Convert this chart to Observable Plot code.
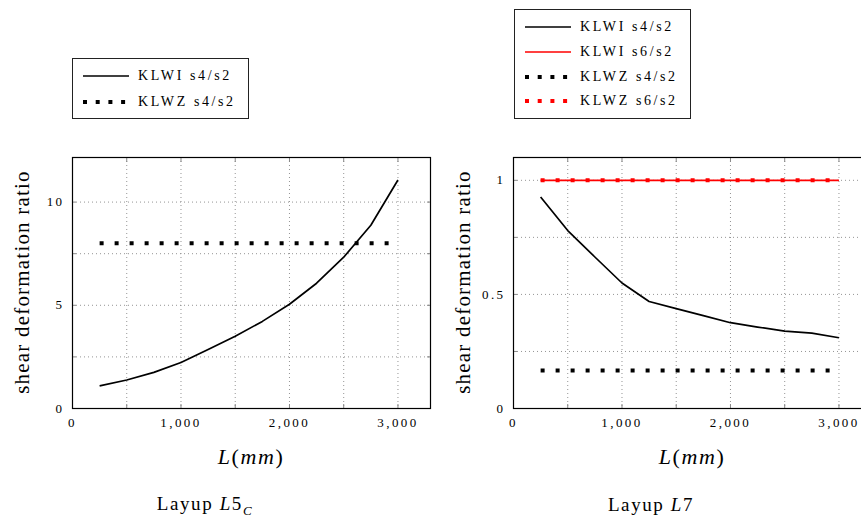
<!DOCTYPE html>
<html>
<head>
<meta charset="utf-8">
<script src="https://cdn.jsdelivr.net/npm/d3@7"></script>
<script src="https://cdn.jsdelivr.net/npm/@observablehq/plot@0.6"></script>
<style>
  html, body { margin: 0; padding: 0; background: #fff; }
  #page { position: relative; width: 861px; height: 520px; overflow: hidden; background: #fff;
          font-family: "Liberation Serif", "DejaVu Serif", serif; color: #000; }
  .panel { position: absolute; top: 0; width: 440px; height: 520px; }
  .panel svg { max-width: none !important; width: 440px; height: 520px; }
  .ylab { position: absolute; font-size: 21px; letter-spacing: 1.2px; white-space: nowrap;
          transform: translate(-50%, -50%) rotate(-90deg); }
  .xlab { position: absolute; font-size: 22px; white-space: nowrap; transform: translate(-50%, -50%); letter-spacing: 1.6px; }
  .title { position: absolute; font-size: 19px; white-space: nowrap; transform: translate(-50%, -50%); letter-spacing: 1.6px; }
  .legend { position: absolute; border: 1px solid #222; background: #fff; box-sizing: border-box; }
  .legend .row { position: absolute; left: 0; height: 20px; display: flex; align-items: center; }
  .legend .row span { font-size: 14px; letter-spacing: 2.6px; margin-left: 9px; }
  i { font-style: italic; }
</style>
</head>
<body>
<div id="page"></div>
<script>
// ---------- data ----------
const lengths = [250, 500, 750, 1000, 1250, 1500, 1750, 2000, 2250, 2500, 2750, 3000];

// Layup L5_C
const l5c_klwi_s4s2 = [1.1, 1.38, 1.75, 2.23, 2.86, 3.5, 4.22, 5.05, 6.07, 7.33, 8.88, 11.07];
const l5c_klwz_s4s2 = [8, 8, 8, 8, 8, 8, 8, 8, 8, 8, 8, 8];

// Layup L7
const l7_klwi_s4s2 = [0.927, 0.78, 0.664, 0.55, 0.469, 0.438, 0.407, 0.376, 0.357, 0.339, 0.33, 0.31];
const l7_klwi_s6s2 = [1, 1, 1, 1, 1, 1, 1, 1, 1, 1, 1, 1];
const l7_klwz_s4s2 = [0.167, 0.167, 0.167, 0.167, 0.167, 0.167, 0.167, 0.167, 0.167, 0.167, 0.167, 0.167];
const l7_klwz_s6s2 = [1, 1, 1, 1, 1, 1, 1, 1, 1, 1, 1, 1];

const xTickLabels = [0, 1000, 2000, 3000];
const xGridTicks = [500, 1000, 1500, 2000, 2500, 3000];
const l5c_yTickLabels = [0, 5, 10];
const l5c_yGridTicks = [2.5, 5, 7.5, 10];
const l7_yTickLabels = [0, 0.5, 1];
const l7_yGridTicks = [0.25, 0.5, 0.75, 1];

const yLabel = "shear deformation ratio";
const legendL5C = ["KLWI s4/s2", "KLWZ s4/s2"];
const legendL7 = ["KLWI s4/s2", "KLWI s6/s2", "KLWZ s4/s2", "KLWZ s6/s2"];

// ---------- helpers ----------
const toRows = (ys) => lengths.map((x, i) => ({x, y: ys[i]}));
const solid = (ys, color) => Plot.line(toRows(ys), {x: "x", y: "y", stroke: color, strokeWidth: 1.7, strokeLinecap: "butt", strokeLinejoin: "round"});
const dotted = (ys, color) => Plot.line(toRows(ys), {x: "x", y: "y", stroke: color, strokeWidth: 4, strokeDasharray: "4,11", strokeLinecap: "butt"});

function panel({left, yMax, yTickLabels, yGridTicks, yFormat, series}) {
  const p = Plot.plot({
    width: 440, height: 520,
    marginLeft: 72, marginRight: 10, marginTop: 157, marginBottom: 112,
    x: {domain: [0, 3300], axis: null},
    y: {domain: [0, yMax], axis: null},
    style: {fontFamily: "'Liberation Serif', 'DejaVu Serif', serif", fontSize: "13px", letterSpacing: "2.4px", background: "transparent", color: "#000", overflow: "visible"},
    marks: [
      Plot.gridX(xGridTicks, {stroke: "#888", strokeOpacity: 1, strokeWidth: 0.9, strokeDasharray: "1,3"}),
      Plot.gridY(yGridTicks, {stroke: "#888", strokeOpacity: 1, strokeWidth: 0.9, strokeDasharray: "1,3"}),
      Plot.axisX(xGridTicks, {anchor: "bottom", tickSize: -4, tickFormat: () => "", stroke: "#888", label: null}),
      Plot.axisX(xGridTicks, {anchor: "top", tickSize: -4, tickFormat: () => "", stroke: "#888", label: null}),
      Plot.axisY(yGridTicks, {anchor: "left", tickSize: -4, tickFormat: () => "", stroke: "#888", label: null}),
      Plot.axisY(yGridTicks, {anchor: "right", tickSize: -4, tickFormat: () => "", stroke: "#888", label: null}),
      Plot.axisX(xTickLabels, {anchor: "bottom", tickSize: 0, tickPadding: 9, tickFormat: d3.format(","), label: null, fill: "#000"}),
      Plot.axisY(yTickLabels, {anchor: "left", tickSize: 0, tickPadding: 8, tickFormat: yFormat, label: null, fill: "#000"}),
      ...series,
      Plot.frame({stroke: "#000", strokeWidth: 1.2})
    ]
  });
  const d = document.createElement("div");
  d.className = "panel";
  d.style.left = left + "px";
  d.appendChild(p);
  return d;
}

function legend(left, top, width, height, entries, rowTops) {
  const box = document.createElement("div");
  box.className = "legend";
  Object.assign(box.style, {left: left + "px", top: top + "px", width: width + "px", height: height + "px"});
  entries.forEach((e, i) => {
    const row = document.createElement("div");
    row.className = "row";
    row.style.top = rowTops[i] + "px";
    row.style.left = "10px";
    const dash = e.dotted ? 'stroke-width="4" stroke-dasharray="4,8.7"' : 'stroke-width="1.7"';
    row.innerHTML = `<svg width="46" height="20"><line x1="0" x2="46" y1="10" y2="10" stroke="${e.color}" ${dash}/></svg><span>${e.label}</span>`;
    box.appendChild(row);
  });
  return box;
}

function addText(cls, html, x, y) {
  const d = document.createElement("div");
  d.className = cls;
  d.style.left = x + "px";
  d.style.top = y + "px";
  d.innerHTML = html;
  page.appendChild(d);
}

const page = document.getElementById("page");

page.appendChild(panel({
  left: 0, yMax: 12.16, yTickLabels: l5c_yTickLabels, yGridTicks: l5c_yGridTicks, yFormat: d3.format("~g"),
  series: [solid(l5c_klwi_s4s2, "#000"), dotted(l5c_klwz_s4s2, "#000")]
}));
page.appendChild(panel({
  left: 441, yMax: 1.1, yTickLabels: l7_yTickLabels, yGridTicks: l7_yGridTicks, yFormat: d3.format("~g"),
  series: [solid(l7_klwi_s4s2, "#000"), solid(l7_klwi_s6s2, "#ff0000"), dotted(l7_klwz_s4s2, "#000"), dotted(l7_klwz_s6s2, "#ff0000")]
}));

page.appendChild(legend(72, 58, 177, 61, [
  {label: legendL5C[0], color: "#000", dotted: false},
  {label: legendL5C[1], color: "#000", dotted: true}
], [7, 33]));
page.appendChild(legend(514, 9, 177, 110, [
  {label: legendL7[0], color: "#000", dotted: false},
  {label: legendL7[1], color: "#ff0000", dotted: false},
  {label: legendL7[2], color: "#000", dotted: true},
  {label: legendL7[3], color: "#ff0000", dotted: true}
], [7, 32, 57, 81]));

addText("ylab", yLabel, 22, 282);
addText("ylab", yLabel, 463, 282);
addText("xlab", "<i>L</i>(<i>mm</i>)", 251, 457);
addText("xlab", "<i>L</i>(<i>mm</i>)", 692, 457);
addText("title", "Layup <i>L</i>5<sub style='font-size:13px'><i>C</i></sub>", 205, 506);
addText("title", "Layup <i>L</i>7", 651, 505);
</script>
</body>
</html>
